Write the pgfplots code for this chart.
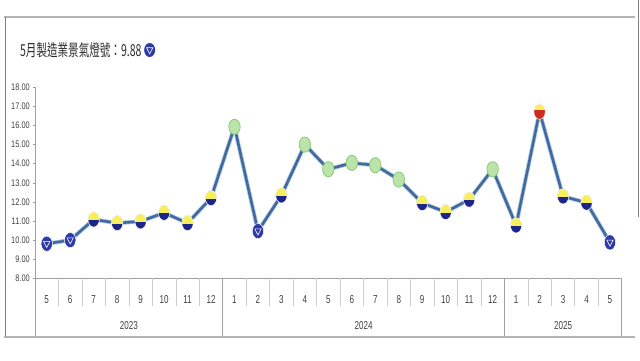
\documentclass[border=0pt]{standalone}
\usepackage{fontspec}
\setmainfont{Liberation Sans}
\newfontfamily\cjk{Noto Sans CJK TC}
\usepackage{pgfplots}
\pgfplotsset{compat=1.18}
\usepackage{pgfplotstable}

\definecolor{lineblue}{RGB}{66,106,156}
\definecolor{halo}{RGB}{175,200,228}
\definecolor{mnavy}{RGB}{28,38,138}
\definecolor{myellow}{RGB}{246,238,90}
\definecolor{mblue}{RGB}{45,58,168}
\definecolor{mgreen}{RGB}{186,228,168}
\definecolor{mgreenD}{RGB}{140,200,125}
\definecolor{mred}{RGB}{205,45,30}
\definecolor{txt}{RGB}{64,64,64}
\definecolor{ttl}{RGB}{45,45,45}
\definecolor{axisgray}{RGB}{160,160,160}
\definecolor{sepgray}{RGB}{205,205,205}
\definecolor{framegray}{RGB}{180,180,180}

\pgfplotstableread{
x y c
0 9.81 b
1 10.00 b
2 11.08 yb
3 10.89 yb
4 10.98 yb
5 11.43 yb
6 10.89 yb
7 12.20 yb
8 15.93 g
9 10.47 b
10 12.34 yb
11 15.00 g
12 13.71 g
13 14.04 g
14 13.92 g
15 13.17 g
16 11.94 yb
17 11.47 yb
18 12.12 yb
19 13.71 g
20 10.77 yb
21 16.72 yr
22 12.29 yb
23 11.96 yb
24 9.88 b
}\datatable

\newcommand{\markshape}{\pgfpathellipse{\pgfpointorigin}{\pgfpoint{5.7pt}{0pt}}{\pgfpoint{0pt}{7.6pt}}}
\newcommand{\halfmark}[3]{%
  \begin{pgfscope}\markshape\pgfusepath{clip}%
    \pgfsetfillcolor{#2}\pgfpathrectangle{\pgfpoint{-7pt}{-9pt}}{\pgfpoint{14pt}{18pt}}\pgfusepath{fill}%
    \pgfsetfillcolor{#1}\pgfpathrectangle{\pgfpoint{-7pt}{#3}}{\pgfpoint{14pt}{10pt}}\pgfusepath{fill}%
  \end{pgfscope}%
  \pgfsetlinewidth{0.5pt}\pgfsetstrokecolor{white}\markshape\pgfusepath{stroke}}
\pgfdeclareplotmark{yb}{\halfmark{myellow}{mnavy}{-0.6pt}}
\pgfdeclareplotmark{yr}{\halfmark{myellow}{mred}{1.5pt}}
\pgfdeclareplotmark{blu}{%
  \pgfsetfillcolor{mblue}\markshape\pgfusepath{fill}%
  \pgfsetlinewidth{0.6pt}\pgfsetstrokecolor{white}%
  \pgfpathmoveto{\pgfpoint{-3.2pt}{2.3pt}}\pgfpathlineto{\pgfpoint{3.2pt}{2.3pt}}%
  \pgfpathlineto{\pgfpoint{0pt}{-3.8pt}}\pgfpathclose\pgfusepath{stroke}%
  \pgfsetlinewidth{0.5pt}\markshape\pgfusepath{stroke}}
\pgfdeclareplotmark{grn}{%
  \pgfsetfillcolor{mgreen}\pgfsetstrokecolor{mgreenD}\pgfsetlinewidth{0.8pt}%
  \markshape\pgfusepath{fill,stroke}}

\begin{document}
\begin{tikzpicture}
\useasboundingbox (0,0) rectangle (640pt,360pt);
% frame
\draw[framegray, line width=1.6pt] (4pt,343pt) -- (635pt,343pt);
\draw[framegray!70!black, line width=0.6pt] (5pt,343pt) -- (5pt,23pt);
\draw[framegray, line width=1.6pt] (4pt,23pt) -- (635pt,23pt);
\draw[gray, line width=0.6pt] (638pt,360pt) -- (638pt,143pt);

% title
\node[anchor=west, font=\cjk\fontsize{16.5}{16.5}\selectfont, text=ttl, xscale=0.64, inner sep=0pt] (title) at (20pt,310pt) {5月製造業景氣燈號：9.88};
\path (title.east) ++(8pt,0pt) coordinate (ic);
\fill[mblue] (ic) ellipse [x radius=5.5pt, y radius=7pt];
\draw[white, line width=0.6pt] ([shift={(-3.2pt,2.3pt)}]ic) -- ([shift={(3.2pt,2.3pt)}]ic) -- ([shift={(0pt,-3.8pt)}]ic) -- cycle;

\begin{axis}[
  at={(35pt,81.7pt)}, anchor=south west, scale only axis,
  width=586.7pt, height=191pt,
  xmin=-0.5, xmax=24.5, ymin=8, ymax=18,
  axis x line*=bottom, axis y line*=left,
  axis line style={axisgray, line width=0.8pt},
  clip=false,
  /pgf/number format/assume math mode=true,
  ytick={8,9,...,18},
  yticklabel style={/pgf/number format/fixed, /pgf/number format/fixed zerofill,
    /pgf/number format/precision=2, font=\fontsize{9.5}{9.5}\selectfont, text=txt, xscale=0.78},
  ytick style={axisgray, line width=0.6pt},
  tick align=outside, major tick length=2.5pt,
  xtick={0,...,24},
  xticklabels={5,6,7,8,9,10,11,12,1,2,3,4,5,6,7,8,9,10,11,12,1,2,3,4,5},
  xtick style={draw=none},
  xticklabel style={anchor=center, yshift=-19pt, font=\fontsize{11.5}{11.5}\selectfont, text=txt, xscale=0.7},
  scatter/classes={b={mark=blu}, yb={mark=yb}, g={mark=grn}, yr={mark=yr}},
]
\addplot[halo, line width=4.2pt, no marks] table[x=x,y=y] {\datatable};
\addplot[lineblue, line width=2.6pt, no marks] table[x=x,y=y] {\datatable};
\addplot[scatter, only marks, scatter src=explicit symbolic] table[x=x,y=y,meta=c] {\datatable};

\pgfplotsinvokeforeach{0.5,1.5,2.5,3.5,4.5,5.5,6.5,8.5,9.5,10.5,11.5,12.5,13.5,14.5,15.5,16.5,17.5,18.5,20.5,21.5,22.5,23.5}{
  \draw[sepgray, line width=0.6pt] (axis cs:#1,8) -- ++(0pt,-28pt);
}
\pgfplotsinvokeforeach{-0.5,7.5,19.5,24.5}{
  \draw[axisgray, line width=0.6pt] (axis cs:#1,8) -- ++(0pt,-58pt);
}
\node[font=\fontsize{11.5}{11.5}\selectfont, text=txt, xscale=0.7, yshift=-47pt] at (axis cs:3.5,8) {2023};
\node[font=\fontsize{11.5}{11.5}\selectfont, text=txt, xscale=0.7, yshift=-47pt] at (axis cs:13.5,8) {2024};
\node[font=\fontsize{11.5}{11.5}\selectfont, text=txt, xscale=0.7, yshift=-47pt] at (axis cs:22,8) {2025};
\end{axis}
\end{tikzpicture}
\end{document}
